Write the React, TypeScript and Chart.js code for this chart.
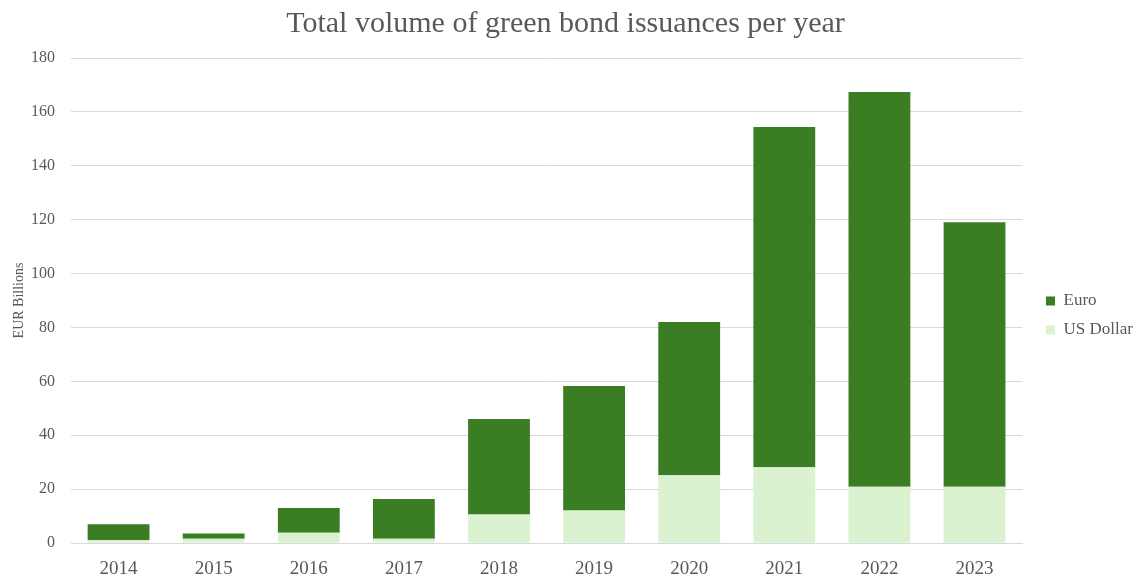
import React, { useEffect, useRef } from "react";
import { Chart, registerables } from "chart.js";

Chart.register(...registerables);

const years = ["2014", "2015", "2016", "2017", "2018", "2019", "2020", "2021", "2022", "2023"];
const usDollar = [1.1, 1.6, 3.8, 1.6, 10.6, 12.1, 25.1, 28.1, 20.9, 20.9];
const euro = [5.9, 1.9, 9.2, 14.7, 35.4, 46.2, 56.9, 126.3, 146.5, 98.1];
const yTicks = [0, 20, 40, 60, 80, 100, 120, 140, 160, 180];

const FONT = "'Liberation Serif', 'DejaVu Serif', serif";
const GRAY = "#595959";

const legendShift = {
  id: "legendShift",
  afterLayout(chart: any) {
    const lg = chart.legend;
    if (!lg) return;
    const dx = 1034 - lg.left;
    const dy = 15;
    lg.left += dx;
    lg.right += dx;
    lg.top += dy;
    lg.bottom += dy;
  },
};

export default function App() {
  const ref = useRef<HTMLCanvasElement | null>(null);
  useEffect(() => {
    if (!ref.current) return;
    const chart = new Chart(ref.current, {
      type: "bar",
      data: {
        labels: years,
        datasets: [
          { label: "US Dollar", data: usDollar, backgroundColor: "#DAF2D0", borderWidth: 0 },
          { label: "Euro", data: euro, backgroundColor: "#3B7D23", borderWidth: 0 },
        ],
      },
      plugins: [legendShift],
      options: {
        animation: false,
        responsive: true,
        maintainAspectRatio: false,
        layout: { padding: { left: 0, right: 3, top: 6, bottom: -17 } },
        datasets: { bar: { barPercentage: 0.65, categoryPercentage: 1 } },
        plugins: {
          title: {
            display: true,
            text: "Total volume of green bond issuances per year",
            color: GRAY,
            font: { family: FONT, size: 30, weight: "normal" },
            padding: { top: 0, bottom: 16 },
          },
          legend: {
            position: "right",
            reverse: true,
            labels: {
              boxWidth: 9,
              boxHeight: 9,
              color: GRAY,
              padding: 12,
              font: { family: FONT, size: 17 },
            },
          },
          tooltip: { enabled: false },
        },
        scales: {
          x: {
            stacked: true,
            grid: { display: false, drawTicks: false },
            border: { color: "#d9d9d9" },
            ticks: { color: GRAY, font: { family: FONT, size: 19, lineHeight: 1 }, padding: 16.5 },
          },
          y: {
            stacked: true,
            min: 0,
            max: 180,
            afterBuildTicks: (axis: any) => {
              axis.ticks = yTicks.map((v) => ({ value: v }));
            },
            grid: { color: "#d9d9d9", drawTicks: false },
            border: { display: false },
            ticks: { color: GRAY, font: { family: FONT, size: 16 }, padding: 16 },
            title: {
              display: true,
              text: "EUR Billions",
              color: GRAY,
              font: { family: FONT, size: 14 },
              padding: { top: 10.6, bottom: -12.4 },
            },
          },
        },
      },
    });
    return () => chart.destroy();
  }, []);
  return (
    <div style={{ position: "absolute", left: 0, top: 0, width: 1134, height: 578, background: "#fff" }}>
      <canvas ref={ref} />
    </div>
  );
}
